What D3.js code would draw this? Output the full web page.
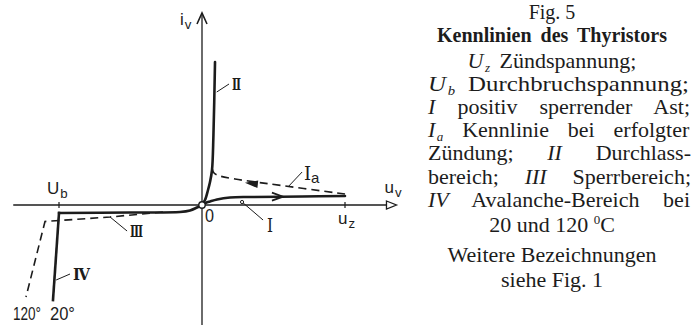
<!DOCTYPE html>
<html>
<head>
<meta charset="utf-8">
<script src="https://cdn.jsdelivr.net/npm/d3@7"></script>
<style>
  body { margin: 0; background: #fff; }
  svg { display: block; }
</style>
</head>
<body>
<svg></svg>
<script>
const WIDTH = 693;
const HEIGHT = 327;
const INK = '#1c1c1c';

// characteristic curves, u in units of U_z (U_b = -1), i in arbitrary units
const curveII = [[0, 0], [0.007, 0.02], [0.021, 0.05], [0.042, 0.15], [0.056, 0.23], [0.07, 0.35], [0.08, 0.7], [0.091, 1.43]];
const curveI = [[0, 0], [0.028, 0.022], [0.056, 0.035], [0.105, 0.055], [0.196, 0.075], [0.336, 0.08], [0.7, 0.085], [1.0, 0.09]];
const curveIa = [[1.0, 0.11], [0.476, 0.21], [0.231, 0.26], [0.126, 0.29], [0.084, 0.32], [0.07, 0.37]];
const curveIII = [[0, 0], [-0.035, -0.025], [-0.084, -0.055], [-0.154, -0.07], [-0.5, -0.075], [-1.0, -0.08]];
const curveIV20 = [[-1.0, -0.08], [-1.042, -0.95]];
const curveIV120 = [[-0.273, -0.07], [-0.643, -0.12], [-1.098, -0.165], [-1.231, -0.92]];

const U_B = -1;
const U_Z = 1;
const uExtent = [-1.32, 1.36];
const iExtent = [-1.2, 1.92];

// arrows on the curves: [u, i]
const arrowI = [0.566, 0.083];
const arrowIa = [0.3, 0.222];

// curve labels: text, label point, target point on curve
const curveLabels = [
  { text: 'Ⅱ', at: [0.21, 1.15], to: [0.103, 1.13], len: 9 },
  { text: 'Ⅲ', at: [-0.503, -0.32], to: [-0.643, -0.12], len: 13 },
  { text: 'Ⅳ', at: [-0.902, -0.75], to: [-1.02, -0.75], len: 17 }
];

// description text
const descLines = [
  [['Fig. 5']],
  [['Kennlinien des Thyristors', 'b']],
  [['U', 'i'], ['z', 's'], [' Zündspannung;']],
  [['U', 'i'], ['b', 's'], [' Durchbruchspannung;']],
  [['I', 'i'], [' positiv sperrender Ast;']],
  [['I', 'i'], ['a', 's'], [' Kennlinie bei erfolgter']],
  [['Zündung; '], ['II', 'i'], [' Durchlass-']],
  [['bereich; '], ['III', 'i'], [' Sperrbereich;']],
  [['IV', 'i'], [' Avalanche-Bereich bei']],
  [['20 und 120 '], ['0', 'p'], ['C']],
  [['Weitere Bezeichnungen']],
  [['siehe Fig. 1']]
];
const descAlign = ['c', 'c', 'c', 'j', 'j', 'j', 'j', 'j', 'j', 'c', 'c', 'c'];
const descBase = [19, 42, 68, 91, 114, 137, 160, 184, 207, 232, 262, 287];
const DESC_LEFT = 428;
const DESC_RIGHT = 691;
const DESC_MID = 552;

const svg = d3.select('svg').attr('width', WIDTH).attr('height', HEIGHT);

const x = d3.scaleLinear().domain([-1, 1]).range([59, 345]);
const y = d3.scaleLinear().domain([-1, 1]).range([305, 105]);

const chart = svg.append('g');

// axes
chart.append('line')
  .attr('x1', x(uExtent[0])).attr('x2', x(uExtent[1]) - 10)
  .attr('y1', y(0)).attr('y2', y(0))
  .attr('stroke', INK).attr('stroke-width', 1.3);
chart.append('path')
  .attr('d', `M${x(uExtent[1]) - 10},${y(0) - 4}L${x(uExtent[1])},${y(0)}L${x(uExtent[1]) - 10},${y(0) + 4}Z`)
  .attr('fill', '#fff').attr('stroke', INK).attr('stroke-width', 1.3);

chart.append('line')
  .attr('x1', x(0)).attr('x2', x(0))
  .attr('y1', y(iExtent[0])).attr('y2', y(iExtent[1]))
  .attr('stroke', INK).attr('stroke-width', 1.3);
chart.append('path')
  .attr('d', `M${x(0) - 5},${y(iExtent[1]) + 11}L${x(0)},${y(iExtent[1])}L${x(0) + 5},${y(iExtent[1]) + 11}`)
  .attr('fill', 'none').attr('stroke', INK).attr('stroke-width', 1.6);

chart.selectAll('.tick')
  .data([U_B, U_Z])
  .enter()
  .append('line')
  .attr('x1', (d) => x(d)).attr('x2', (d) => x(d))
  .attr('y1', y(0) - 3).attr('y2', y(0) + 3)
  .attr('stroke', INK).attr('stroke-width', 1.2);

// curves
const line = d3.line()
  .x((d) => x(d[0]))
  .y((d) => y(d[1]))
  .curve(d3.curveCatmullRom.alpha(0.5));

const straight = d3.line()
  .x((d) => x(d[0]))
  .y((d) => y(d[1]));

const solid = [curveII, curveI, curveIII];
chart.selectAll('.solid')
  .data(solid)
  .enter()
  .append('path')
  .attr('d', line)
  .attr('fill', 'none').attr('stroke', INK)
  .attr('stroke-width', 2.6).attr('stroke-linecap', 'round');

chart.append('path')
  .attr('d', straight(curveIV20))
  .attr('fill', 'none').attr('stroke', INK)
  .attr('stroke-width', 2.6).attr('stroke-linecap', 'square');

chart.append('path')
  .attr('d', line(curveIa))
  .attr('fill', 'none').attr('stroke', INK)
  .attr('stroke-width', 1.6).attr('stroke-dasharray', '8,5');

chart.append('path')
  .attr('d', straight(curveIV120))
  .attr('fill', 'none').attr('stroke', INK)
  .attr('stroke-width', 1.6).attr('stroke-dasharray', '8,5');

// arrow on curve I (open, pointing right)
{
  const tx = x(arrowI[0]);
  const ty = y(arrowI[1]);
  chart.append('path')
    .attr('d', `M${tx - 11},${ty - 4}L${tx},${ty}L${tx - 11},${ty + 4}`)
    .attr('fill', 'none').attr('stroke', INK).attr('stroke-width', 1.8);
}
// arrow on curve Ia (filled, pointing left)
{
  const tx = x(arrowIa[0]);
  const ty = y(arrowIa[1]);
  const ang = Math.atan2(y(curveIa[0][1]) - ty, x(curveIa[0][0]) - tx);
  const c = Math.cos(ang), s = Math.sin(ang);
  const bx = tx + 13 * c, by = ty + 13 * s;
  chart.append('path')
    .attr('d', `M${tx},${ty}L${bx - 3.8 * s},${by + 3.8 * c}L${bx + 3.8 * s},${by - 3.8 * c}Z`)
    .attr('fill', INK);
}

// origin
chart.append('circle')
  .attr('cx', x(0)).attr('cy', y(0)).attr('r', 3.2)
  .attr('fill', '#fff').attr('stroke', INK).attr('stroke-width', 1.4);

// leader lines + roman labels
const labelFont = '"DejaVu Serif", serif';
curveLabels.forEach((l) => {
  chart.append('line')
    .attr('x1', x(l.at[0]) - 3).attr('y1', y(l.at[1]) - 6)
    .attr('x2', x(l.to[0])).attr('y2', y(l.to[1]))
    .attr('stroke', INK).attr('stroke-width', 1);
  chart.append('text')
    .attr('x', x(l.at[0])).attr('y', y(l.at[1]))
    .attr('font-family', labelFont).attr('font-weight', 'bold').attr('font-size', 17)
    .attr('textLength', l.len).attr('lengthAdjust', 'spacingAndGlyphs')
    .attr('fill', INK).text(l.text);
});

// label I
chart.append('line')
  .attr('x1', x(0.427)).attr('y1', y(-0.15))
  .attr('x2', x(0.28)).attr('y2', y(0.03))
  .attr('stroke', INK).attr('stroke-width', 1);
chart.append('circle')
  .attr('cx', x(0.28)).attr('cy', y(0.03)).attr('r', 1.6)
  .attr('fill', '#fff').attr('stroke', INK).attr('stroke-width', 1);
chart.append('text')
  .attr('x', x(0.455)).attr('y', y(-0.27))
  .attr('font-family', labelFont).attr('font-size', 18)
  .attr('textLength', 6).attr('lengthAdjust', 'spacingAndGlyphs')
  .attr('fill', INK).text('I');

// label Ia
chart.append('line')
  .attr('x1', x(0.7)).attr('y1', y(0.33))
  .attr('x2', x(0.601)).attr('y2', y(0.18))
  .attr('stroke', INK).attr('stroke-width', 1);
const ia = chart.append('text')
  .attr('x', x(0.713)).attr('y', y(0.25))
  .attr('font-family', labelFont).attr('font-size', 18).attr('fill', INK);
ia.append('tspan').text('I');
ia.append('tspan').attr('font-family', '"Liberation Sans", sans-serif')
  .attr('font-size', 15).attr('dy', 3).text('a');

// axis labels
const sans = '"Liberation Sans", Arial, sans-serif';
function subLabel(px, py, main, sub, size) {
  const t = chart.append('text')
    .attr('x', px).attr('y', py)
    .attr('font-family', sans).attr('font-size', size).attr('fill', INK);
  t.append('tspan').text(main);
  t.append('tspan').attr('font-size', size * 0.78).attr('dx', 1).attr('dy', 4).text(sub);
}
subLabel(x(0) - 22, y(iExtent[1]) + 12, 'i', 'v', 17);
subLabel(x(U_B) - 12, y(0) - 11, 'U', 'b', 17);
subLabel(x(U_Z) - 7, y(0) + 19, 'u', 'z', 17);
subLabel(x(uExtent[1]) - 12, y(0) - 12, 'u', 'v', 17);

chart.append('text')
  .attr('x', x(0) + 3).attr('y', y(0) + 17)
  .attr('font-family', sans).attr('font-size', 18)
  .attr('textLength', 9).attr('lengthAdjust', 'spacingAndGlyphs')
  .attr('fill', INK).text('0');

chart.append('text')
  .attr('x', x(curveIV120[3][0]) - 13).attr('y', y(-1.15))
  .attr('font-family', sans).attr('font-size', 18)
  .attr('textLength', 28).attr('lengthAdjust', 'spacingAndGlyphs')
  .attr('fill', INK).text('120°');
chart.append('text')
  .attr('x', x(curveIV20[1][0]) - 3).attr('y', y(-1.15))
  .attr('font-family', sans).attr('font-size', 18)
  .attr('textLength', 25).attr('lengthAdjust', 'spacingAndGlyphs')
  .attr('fill', INK).text('20°');

// description block
const desc = svg.append('g')
  .attr('font-family', '"Liberation Serif", "Times New Roman", serif')
  .attr('font-size', 22)
  .attr('fill', INK);

descLines.forEach((segs, k) => {
  const t = desc.append('text').attr('y', descBase[k]);
  let shift = 0;
  segs.forEach(([str, st]) => {
    const sp = t.append('tspan').text(str);
    let want = 0;
    if (st === 'b') sp.attr('font-weight', 'bold').attr('font-size', 20);
    if (st === 'i') sp.attr('font-style', 'italic');
    if (st === 's') { sp.attr('font-style', 'italic').attr('font-size', 13).attr('dx', 1.5); want = 4; }
    if (st === 'p') { sp.attr('font-size', 13); want = -8; }
    if (want !== shift) sp.attr('dy', want - shift);
    shift = want;
  });
  if (k === 0) t.attr('font-size', 20);
  if (descAlign[k] === 'c') {
    t.attr('x', DESC_MID).attr('text-anchor', 'middle');
    if (k === 1 || k === 2) t.style('word-spacing', '4px');
    return;
  }
  t.attr('x', DESC_LEFT);
  const natural = t.node().getBBox().width;
  const spaces = segs.map((s) => s[0]).join('').split(' ').length - 1;
  const target = DESC_RIGHT - DESC_LEFT;
  if (spaces > 1 && natural < target) {
    t.style('word-spacing', `${(target - natural) / spaces}px`);
  } else {
    // single-space line: widen the gap a little, stretch the rest
    t.style('word-spacing', '6px');
    t.attr('textLength', target - 2).attr('lengthAdjust', 'spacingAndGlyphs');
  }
});
</script>
</body>
</html>
